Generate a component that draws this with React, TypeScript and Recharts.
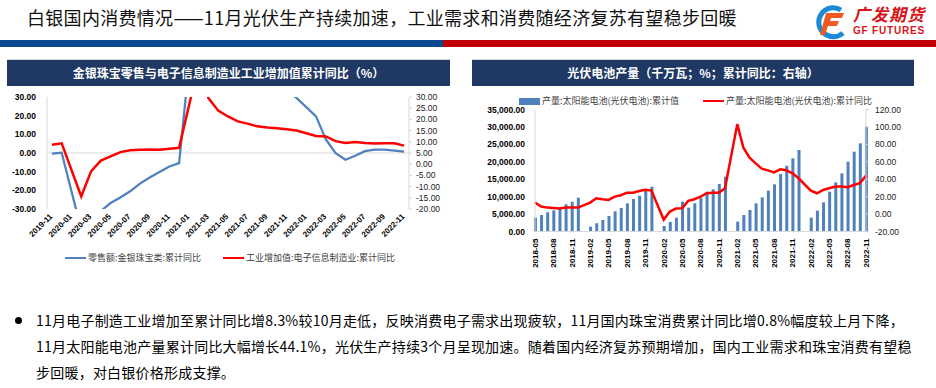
import React from "react";
import { LineChart, ComposedChart, Line, Bar, XAxis, YAxis, ReferenceLine } from "recharts";

// ---- left chart: jewelry retail vs electronics value added (cumulative YoY, %)
const months1 = [
  "2019-11", "2019-12", "2020-01", "2020-02", "2020-03", "2020-04", "2020-05", "2020-06",
  "2020-07", "2020-08", "2020-09", "2020-10", "2020-11", "2020-12", "2021-01", "2021-02",
  "2021-03", "2021-04", "2021-05", "2021-06", "2021-07", "2021-08", "2021-09", "2021-10",
  "2021-11", "2021-12", "2022-01", "2022-02", "2022-03", "2022-04", "2022-05", "2022-06",
  "2022-07", "2022-08", "2022-09", "2022-10", "2022-11",
];
const jewelryYoy = [
  -0.3, 0.2, null, -41.1, -37.0, -31.1, -26.8, -23.8,
  -20.5, -16.4, -13.1, -10.2, -7.2, -5.4, null, 98.1,
  90.0, 75.0, 64.0, 57.0, 51.0, 46.0, 42.0, 37.0,
  34.0, 29.5, null, 19.6, 7.3, -0.1, -3.6, -1.5,
  1.0, 1.8, 1.8, 1.3, 0.8,
];
const electronicsYoy = [
  8.7, 9.3, null, -14.4, -3.2, 1.6, 3.5, 5.4,
  6.2, 6.5, 6.6, 6.5, 6.9, 7.3, null, 44.6,
  29.5, 23.9, 21.3, 19.1, 18.1, 16.9, 16.4, 16.0,
  15.6, 15.0, null, 12.6, 12.4, 10.3, 9.5, 9.9,
  9.5, 9.2, 9.3, 9.3, 8.3,
];
const ticksLeft1 = [-30, -20, -10, 0, 10, 20, 30];
const ticksRight1 = [-20, -15, -10, -5, 0, 5, 10, 15, 20, 25, 30];

// ---- right chart: solar cell output (cumulative, 千万瓦) and cumulative YoY (%)
const months2 = [
  "2018-05", "2018-06", "2018-07", "2018-08", "2018-09", "2018-10", "2018-11", "2018-12",
  "2019-01", "2019-02", "2019-03", "2019-04", "2019-05", "2019-06", "2019-07", "2019-08",
  "2019-09", "2019-10", "2019-11", "2019-12", "2020-01", "2020-02", "2020-03", "2020-04",
  "2020-05", "2020-06", "2020-07", "2020-08", "2020-09", "2020-10", "2020-11", "2020-12",
  "2021-01", "2021-02", "2021-03", "2021-04", "2021-05", "2021-06", "2021-07", "2021-08",
  "2021-09", "2021-10", "2021-11", "2021-12", "2022-01", "2022-02", "2022-03", "2022-04",
  "2022-05", "2022-06", "2022-07", "2022-08", "2022-09", "2022-10", "2022-11",
];
const solarCum = [
  3960, 4730, 5500, 6080, 6830, 7800, 8550, 9700,
  null, 1380, 2340, 3300, 4450, 5790, 6740, 8090,
  9320, 10270, 11900, 12850, null, 1580, 2730, 3960,
  8550, 6830, 8090, 9600, 11430, 12100, 13630, 15730,
  null, 2820, 4730, 6170, 8080, 9800, 11710, 13530,
  16490, 18880, 20990, 23380, null, 3970, 5970, 8370,
  11430, 14100, 16690, 20030, 22900, 25290, 30080,
];
const solarYoy = [
  13.2, 8.6, 7.4, 7.1, 6.3, 7.4, 7.4, 7.4,
  null, 13.2, 18.2, 17.0, 16.2, 20.0, 21.6, 24.6,
  24.6, 26.5, 28.0, 26.9, null, -6.6, 2.9, 6.3,
  6.7, 15.1, 17.0, 19.9, 23.9, 24.6, 24.6, 29.6,
  null, 103.2, 76.1, 64.6, 58.2, 52.1, 50.2, 47.9,
  51.4, 50.2, 46.8, 41.1, null, 26.9, 23.9, 27.7,
  29.6, 31.5, 31.5, 30.8, 33.4, 35.4, 44.1,
];
const ticksLeft2 = [0, 5000, 10000, 15000, 20000, 25000, 30000, 35000];
const ticksRight2 = [-20, 0, 20, 40, 60, 80, 100, 120];

const NUM_FONT = '"Liberation Sans", Arial, "Noto Sans CJK SC", sans-serif';
const CJK_FONT = '"Noto Sans CJK SC", "Microsoft YaHei", sans-serif';
const BLUE = "#4F81BD";
const RED = "#FF0000";
const NAVY = "#1F3864";

const data1 = months1.map((m, i) => ({ i, m, jewelry: jewelryYoy[i], electronics: electronicsYoy[i] }));
const data2 = months2.map((m, i) => ({ i, m, cum: solarCum[i], yoy: solarYoy[i] }));
const xTicks1 = months1.map((_, i) => i).filter((i) => i % 2 === 0);
const xTicks2 = months2.map((_, i) => i).filter((i) => i % 3 === 0);

const thousands = (v: number) => {
  const [a, b] = v.toFixed(2).split(".");
  return a.replace(/\B(?=(\d{3})+$)/g, ",") + "." + b;
};

const DiagTick = (props: any) => {
  const { x, y, payload } = props;
  return (
    <g transform={`translate(${x - 1},${y + 6})`}>
      <text
        textAnchor="end"
        dy="0.35em"
        transform="rotate(-45)"
        fontSize={8}
        fontWeight={700}
        fill="#000"
        fontFamily={NUM_FONT}
      >
        {months1[payload.value]}
      </text>
    </g>
  );
};

const VertTick = (props: any) => {
  const { x, y, payload } = props;
  return (
    <g transform={`translate(${x},${y + 7})`}>
      <text
        textAnchor="end"
        dy="0.35em"
        transform="rotate(-90)"
        fontSize={8}
        fontWeight={700}
        fill="#000"
        fontFamily={NUM_FONT}
      >
        {months2[payload.value]}
      </text>
    </g>
  );
};

const boldTick = { fontSize: 8.5, fontWeight: 700, fill: "#000", fontFamily: NUM_FONT };
const plainTick = { fontSize: 8.5, fill: "#222", fontFamily: NUM_FONT };
const axisGray = { stroke: "#D9D9D9" };

function PanelTitle({ left, width, text }: { left: number; width: number; text: string }) {
  return (
    <>
      <div style={{ position: "absolute", left, top: 59, width, height: 1, background: "#D9D9D9" }} />
      <div
        style={{
          position: "absolute",
          left,
          top: 60,
          width,
          height: 26,
          background: NAVY,
          color: "#fff",
          fontFamily: CJK_FONT,
          fontWeight: 700,
          fontSize: 12,
          lineHeight: "26px",
          textAlign: "center",
        }}
      >
        {text}
      </div>
    </>
  );
}

function LegendItem({ left, top, kind, color, text }: { left: number; top: number; kind: "line" | "box"; color: string; text: string }) {
  return (
    <div style={{ position: "absolute", left, top, height: 12, display: "flex", alignItems: "center", whiteSpace: "nowrap" }}>
      <div style={{ width: 21, height: kind === "line" ? 2.5 : 7, background: color, marginRight: 2 }} />
      <span style={{ fontFamily: CJK_FONT, fontSize: 9, color: "#404040", lineHeight: "12px" }}>{text}</span>
    </div>
  );
}

function Logo() {
  return (
    <>
      <svg style={{ position: "absolute", left: 813, top: 4 }} width={38} height={36} viewBox="0 0 38 36">
        <path d="M 28 6 A 14.5 14.5 0 1 0 30 29" fill="none" stroke="#1C8AD4" strokeWidth={5} />
        <path d="M 13 9 L 31 9 L 29 14 L 18 14 L 17 17 L 26 17 L 24 22 L 15 22 L 12 31 L 7 31 Z" fill="#F05A22" />
      </svg>
      <div
        style={{
          position: "absolute",
          left: 853,
          top: 3,
          fontFamily: CJK_FONT,
          fontWeight: 700,
          fontSize: 17,
          letterSpacing: 1,
          color: "#D7141A",
          lineHeight: "22px",
          fontStyle: "italic",
        }}
      >
        广发期货
      </div>
      <div
        style={{
          position: "absolute",
          left: 853,
          top: 25,
          fontFamily: NUM_FONT,
          fontWeight: 700,
          fontSize: 10,
          letterSpacing: 0.8,
          color: "#D7141A",
          lineHeight: "12px",
          whiteSpace: "nowrap",
        }}
      >
        GF FUTURES
      </div>
    </>
  );
}

export default function App() {
  return (
    <div
      style={{
        position: "absolute",
        left: 0,
        top: 0,
        width: 936,
        height: 388,
        background: "#fff",
        overflow: "hidden",
      }}
    >
      {/* header */}
      <div
        style={{
          position: "absolute",
          left: 27,
          top: 5,
          fontFamily: CJK_FONT,
          fontSize: 18,
          letterSpacing: 0.3,
          lineHeight: "24px",
          color: "#111",
          whiteSpace: "nowrap",
        }}
      >
        白银国内消费情况——11月光伏生产持续加速，工业需求和消费随经济复苏有望稳步回暖
      </div>
      <Logo />
      <div style={{ position: "absolute", left: 0, top: 40, width: 443, height: 7, background: "#0B4A92" }} />
      <div style={{ position: "absolute", left: 443, top: 40, width: 493, height: 7, background: "#C00000" }} />

      {/* left panel */}
      <PanelTitle left={7} width={443} text="金银珠宝零售与电子信息制造业工业增加值累计同比（%）" />
      <div style={{ position: "absolute", left: 0, top: 90 }}>
        <LineChart width={460} height={160} data={data1} margin={{ top: 7, right: 0, bottom: 0, left: 0 }}>
          <XAxis
            dataKey="i"
            type="number"
            domain={[-0.5, 36.5]}
            ticks={xTicks1}
            interval={0}
            height={41}
            axisLine={false}
            tickLine={false}
            tickSize={0}
            tickMargin={0}
            tick={DiagTick}
          />
          <YAxis
            yAxisId="l"
            domain={[-30, 30]}
            ticks={ticksLeft1}
            interval={0}
            allowDataOverflow
            width={47}
            axisLine={axisGray}
            tickLine={false}
            tickSize={0}
            tickMargin={11}
            tickFormatter={(v: number) => v.toFixed(2)}
            tick={boldTick}
          />
          <YAxis
            yAxisId="r"
            orientation="right"
            domain={[-20, 30]}
            ticks={ticksRight1}
            interval={0}
            allowDataOverflow
            width={51}
            axisLine={axisGray}
            tickLine={axisGray}
            tickSize={3}
            tickMargin={4}
            tickFormatter={(v: number) => v.toFixed(2)}
            tick={plainTick}
          />
          <ReferenceLine yAxisId="l" y={0} stroke="#D9D9D9" />
          <Line
            yAxisId="l"
            dataKey="jewelry"
            stroke={BLUE}
            strokeWidth={2.25}
            dot={false}
            activeDot={false}
            connectNulls
            isAnimationActive={false}
          />
          <Line
            yAxisId="r"
            dataKey="electronics"
            stroke={RED}
            strokeWidth={2.5}
            dot={false}
            activeDot={false}
            connectNulls
            isAnimationActive={false}
          />
        </LineChart>
      </div>
      <LegendItem left={65} top={252} kind="line" color={BLUE} text="零售额:金银珠宝类:累计同比" />
      <LegendItem left={223} top={252} kind="line" color={RED} text="工业增加值:电子信息制造业:累计同比" />

      {/* right panel */}
      <PanelTitle left={472} width={442} text="光伏电池产量（千万瓦；%；累计同比：右轴）" />
      <LegendItem left={519} top={95} kind="box" color={BLUE} text="产量:太阳能电池(光伏电池):累计值" />
      <LegendItem left={703} top={95} kind="line" color={RED} text="产量:太阳能电池(光伏电池):累计同比" />
      <div style={{ position: "absolute", left: 470, top: 95 }}>
        <ComposedChart width={466} height={180} data={data2} margin={{ top: 14.5, right: 0, bottom: 0, left: 0 }}>
          <XAxis
            dataKey="i"
            type="number"
            domain={[0, 54]}
            ticks={xTicks2}
            interval={0}
            height={43.5}
            axisLine={axisGray}
            tickLine={false}
            tickSize={0}
            tickMargin={0}
            tick={VertTick}
          />
          <YAxis
            yAxisId="l"
            domain={[0, 35000]}
            ticks={ticksLeft2}
            interval={0}
            width={65}
            axisLine={axisGray}
            tickLine={false}
            tickSize={0}
            tickMargin={10}
            tickFormatter={thousands}
            tick={boldTick}
          />
          <YAxis
            yAxisId="r"
            orientation="right"
            domain={[-20, 120]}
            ticks={ticksRight2}
            interval={0}
            width={70}
            axisLine={axisGray}
            tickLine={axisGray}
            tickSize={3}
            tickMargin={6}
            tickFormatter={(v: number) => v.toFixed(2)}
            tick={plainTick}
          />
          <Bar yAxisId="l" dataKey="cum" fill={BLUE} barSize={3} isAnimationActive={false} />
          <Line
            yAxisId="r"
            dataKey="yoy"
            stroke={RED}
            strokeWidth={2.5}
            dot={false}
            activeDot={false}
            connectNulls
            isAnimationActive={false}
          />
        </ComposedChart>
      </div>

      {/* commentary */}
      <div style={{ position: "absolute", left: 15, top: 316.5, width: 7, height: 7, borderRadius: "50%", background: "#000" }} />
      <div
        style={{
          position: "absolute",
          left: 36,
          top: 307,
          fontFamily: CJK_FONT,
          fontSize: 14,
          letterSpacing: 0.22,
          lineHeight: "26px",
          color: "#000",
          whiteSpace: "nowrap",
        }}
      >
        <div>11月电子制造工业增加至累计同比增8.3%较10月走低，反映消费电子需求出现疲软，11月国内珠宝消费累计同比增0.8%幅度较上月下降，</div>
        <div>11月太阳能电池产量累计同比大幅增长44.1%，光伏生产持续3个月呈现加速。随着国内经济复苏预期增加，国内工业需求和珠宝消费有望稳</div>
        <div>步回暖，对白银价格形成支撑。</div>
      </div>
    </div>
  );
}
